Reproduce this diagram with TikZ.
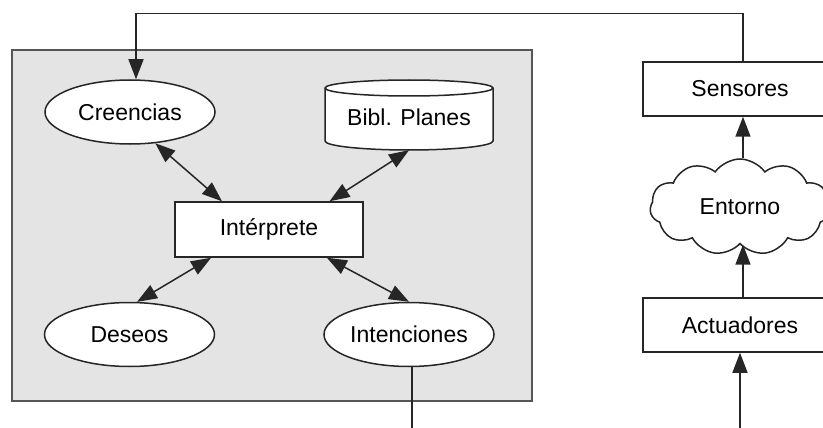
\documentclass[tikz,border=0pt]{standalone}
\usepackage{fontspec}
\setmainfont{Liberation Sans}
\usetikzlibrary{shapes.geometric,shapes.symbols,arrows.meta,calc}
\definecolor{panel}{RGB}{228,228,228}
\definecolor{panelline}{RGB}{85,85,85}
\begin{document}
\begin{tikzpicture}[x=1pt,y=1pt,
  font=\fontsize{23}{27}\selectfont,
  shapeline/.style={draw=black!85,line width=1.5pt,fill=white},
  oval/.style={shapeline,ellipse,inner sep=0pt,minimum width=170pt,minimum height=64pt},
  boxnode/.style={shapeline,rectangle,inner sep=0pt},
  link/.style={draw=black!85,line width=1.5pt},
  both/.style={link,{Triangle[length=20pt,width=15pt]}-{Triangle[length=20pt,width=15pt]}},
  fwd/.style={link,-{Triangle[length=20pt,width=15pt]}}]
\useasboundingbox (0,0) rectangle (823,-428);
\clip (0,0) rectangle (823,-428);

% agent panel
\draw[fill=panel,draw=panelline,line width=1.8pt] (12,-50) rectangle (532,-401);

% plan library drawn as a cylinder
\draw[shapeline] (325,-88) -- (325,-141)
  arc[start angle=180,end angle=360,x radius=84,y radius=9] -- (493,-88)
  arc[start angle=0,end angle=180,x radius=84,y radius=8] -- cycle;
\draw[draw=black!85,line width=1.5pt] (325,-88)
  arc[start angle=180,end angle=360,x radius=84,y radius=8];
\node[inner sep=0pt,minimum width=168pt,minimum height=65pt] (bib) at (409,-117.5) {Bibl. Planes};

% agent components
\node[oval] (cre) at (130,-112) {Creencias};
\node[oval] (des) at (129.5,-334.5) {Deseos};
\node[oval] (inc) at (409,-334.5) {Intenciones};
\node[boxnode,minimum width=188pt,minimum height=55pt] (itp) at (269,-229.5) {Intérprete};

% environment side
\coordinate (rx) at (743,0);
\coordinate (ry) at (0,-13.5);
\node[boxnode,minimum width=194pt,minimum height=54pt] (sen) at (740,-89) {Sensores};
\node[boxnode,minimum width=194pt,minimum height=54pt] (act) at (740,-325) {Actuadores};
\node[shapeline,cloud,cloud puffs=11,cloud puff arc=110,aspect=1.9,
      inner sep=0pt,minimum width=180pt,minimum height=96pt] (ent) at (740,-207) {Entorno};
\coordinate (exit) at (412,-440);
\coordinate (entry) at (740,-440);

% interpreter links
\draw[both] (cre.-51) -- (itp.149);
\draw[both] (bib.south) -- (itp.25);
\draw[both] (des.77) -- (itp.206);
\draw[both] (inc.north) -- (itp.-26);

% perception / action loop
\draw[fwd] (ent.north -| rx) -- (sen.south -| rx);
\draw[fwd] (act.north -| rx) -- (ent.south -| rx);
\draw[fwd] (entry) -- (act.south -| entry);
\draw[fwd] (sen.north -| rx) -- (rx |- ry) -| ([xshift=6pt]cre.north);
\draw[link] ([xshift=3pt]inc.south) -- (exit);
\end{tikzpicture}
\end{document}
